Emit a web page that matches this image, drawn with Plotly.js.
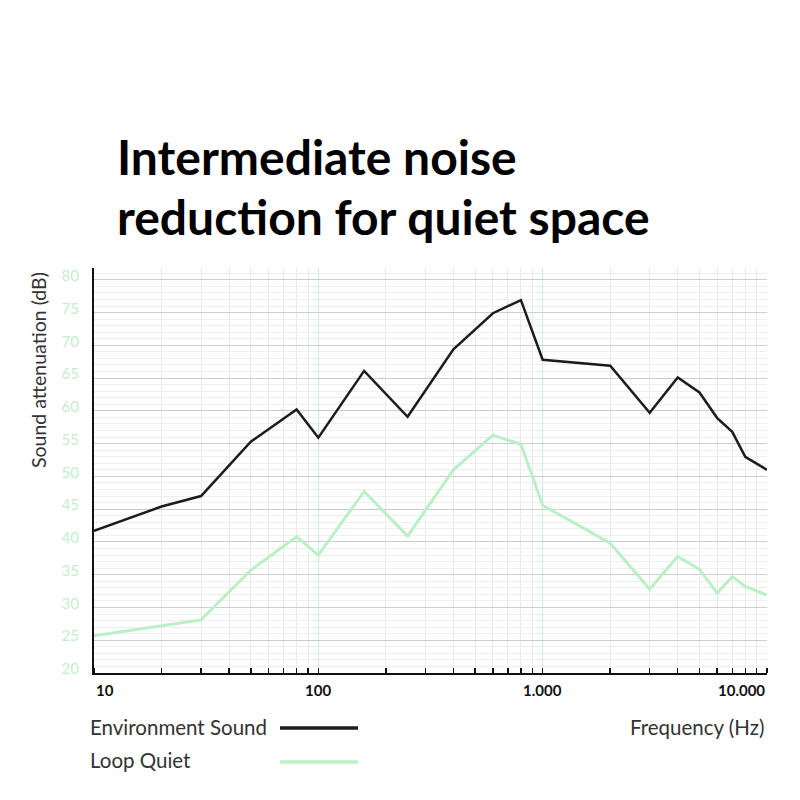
<!DOCTYPE html>
<html>
<head>
<meta charset="utf-8">
<script src="https://cdn.plot.ly/plotly-3.0.1.min.js"></script>
<style>html,body{margin:0;padding:0;background:#fff;}#chart{width:800px;height:800px;}</style>
</head>
<body>
<div id="chart"></div>
<script>
// ---- data ----
const envFreq = [10, 20, 30, 50, 80, 100, 160, 250, 400, 600, 800, 1000, 2000, 3000, 4000, 5000, 6000, 7000, 8000, 10000];
const envDb   = [41.7, 45.4, 47.0, 55.3, 60.2, 55.9, 66.1, 59.1, 69.4, 74.9, 76.9, 67.8, 66.9, 59.7, 65.1, 62.8, 58.9, 56.8, 53.0, 51.0];
const loopFreq = [10, 20, 30, 50, 80, 100, 160, 250, 400, 600, 800, 1000, 2000, 3000, 4000, 5000, 6000, 7000, 8000, 10000];
const loopDb   = [25.7, 27.2, 28.1, 35.7, 40.8, 38.0, 47.7, 40.9, 51.0, 56.3, 54.9, 45.6, 39.8, 32.8, 37.8, 35.8, 32.2, 34.7, 33.2, 31.9];
const seriesNames = ["Environment Sound", "Loop Quiet"];
const xTickVals = [10, 100, 1000, 10000];
const xTickText = ["10", "100", "1.000", "10.000"];
const titleLines = ["Intermediate noise", "reduction for quiet space"];
const yTitle = "Sound attenuation (dB)";
const xTitle = "Frequency (Hz)";

const BLACK = "#1c1c1c";
const GREEN = "#b9f0c6";
const FONT = "Lato, 'Open Sans', sans-serif";

const traces = [
  {x: envFreq, y: envDb, name: seriesNames[0], type: "scatter", mode: "lines",
   line: {color: BLACK, width: 2.5}},
  {x: loopFreq, y: loopDb, name: seriesNames[1], type: "scatter", mode: "lines",
   line: {color: GREEN, width: 3}}
];

const L = 94, T = 268, W = 800, H = 800, R = 33, B = 127;
const pw = W - L - R, ph = H - T - B;
const px = v => (v - L) / pw;          // pixel x -> paper
const py = v => (H - B - v) / ph;      // pixel y -> paper

const annotations = [];
const xAnchors = ["left", "center", "center", "right"];
xTickVals.forEach((v, i) => {
  annotations.push({text: xTickText[i], xref: "x", yref: "paper", x: Math.log10(v), y: py(690),
    xanchor: xAnchors[i], yanchor: "middle", showarrow: false,
    font: {family: FONT, size: 15, color: "#111", weight: 700}});
});
annotations.push({text: titleLines[0], xref: "paper", yref: "paper", x: px(115), y: py(156),
  xanchor: "left", yanchor: "middle", showarrow: false,
  font: {family: FONT, size: 48, color: "#000", weight: 700}});
annotations.push({text: titleLines[1], xref: "paper", yref: "paper", x: px(115), y: py(216),
  xanchor: "left", yanchor: "middle", showarrow: false,
  font: {family: FONT, size: 48, color: "#000", weight: 700}});
annotations.push({text: yTitle, xref: "paper", yref: "paper", x: px(38), y: py(370),
  xanchor: "center", yanchor: "middle", textangle: -90, showarrow: false,
  font: {family: FONT, size: 19.5, color: "#333"}});
annotations.push({text: xTitle, xref: "paper", yref: "paper", x: px(767), y: py(727),
  xanchor: "right", yanchor: "middle", showarrow: false,
  font: {family: FONT, size: 20.5, color: "#333"}});
annotations.push({text: seriesNames[0], xref: "paper", yref: "paper", x: px(88), y: py(727),
  xanchor: "left", yanchor: "middle", showarrow: false,
  font: {family: FONT, size: 20.5, color: "#333"}});
annotations.push({text: seriesNames[1], xref: "paper", yref: "paper", x: px(88), y: py(760),
  xanchor: "left", yanchor: "middle", showarrow: false,
  font: {family: FONT, size: 20.5, color: "#333"}});

const shapes = [
  {type: "line", xref: "paper", yref: "paper", x0: px(280), x1: px(358), y0: py(728), y1: py(728),
   line: {color: BLACK, width: 3.5}},
  {type: "line", xref: "paper", yref: "paper", x0: px(280), x1: px(358), y0: py(762), y1: py(762),
   line: {color: GREEN, width: 3.5}}
];

const layout = {
  width: W, height: H,
  margin: {l: L, r: R, t: T, b: B, pad: 0},
  paper_bgcolor: "#fff", plot_bgcolor: "#fff",
  showlegend: false,
  font: {family: FONT},
  xaxis: {
    type: "log", range: [1, 4],
    tickmode: "array", tickvals: xTickVals, showticklabels: false, ticks: "",
    showgrid: true, gridcolor: "#c6f1d0", gridwidth: 1.5,
    showline: true, linecolor: "#111", linewidth: 2,
    zeroline: false,
    minor: {dtick: "D1", showgrid: true, gridcolor: "#e9e9e9", gridwidth: 1,
            ticks: "inside", ticklen: 5, tickcolor: "#111", tickwidth: 1.5}
  },
  yaxis: {
    range: [20, 81.8], tick0: 20, dtick: 5,
    showgrid: true, gridcolor: "#cdcdcd", gridwidth: 1,
    showline: true, linecolor: "#111", linewidth: 2,
    zeroline: false, ticks: "",
    tickfont: {family: FONT, size: 15, color: "#c4eecd"},
    ticklabelstandoff: 10, ticklabelshift: -4,
    minor: {dtick: 1, showgrid: true, gridcolor: "#efefef", gridwidth: 1}
  },
  annotations: annotations,
  shapes: shapes
};

Plotly.newPlot("chart", traces, layout, {displayModeBar: false, staticPlot: true});
</script>
</body>
</html>
